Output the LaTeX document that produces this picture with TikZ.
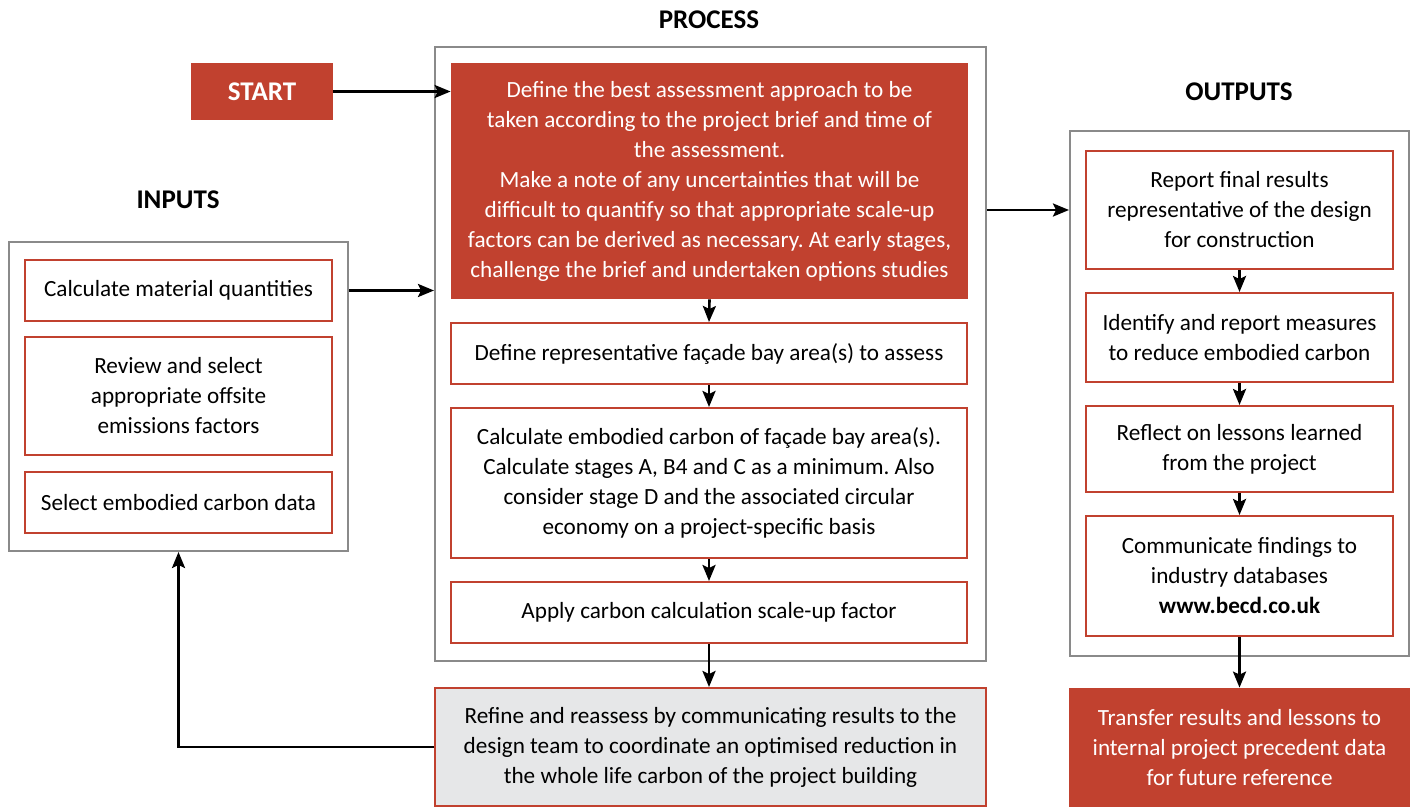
\documentclass[tikz,border=0pt]{standalone}
\usepackage{fontspec}
\setmainfont{Carlito}
\usetikzlibrary{arrows.meta}
\definecolor{brick}{HTML}{C1412F}
\definecolor{frame}{HTML}{8A8A8A}
\definecolor{pale}{HTML}{E6E7E8}
\frenchspacing
\begin{document}
\begin{tikzpicture}[x=0.5pt,y=-0.5pt,
  body/.style={align=center, inner sep=0pt, font=\fontsize{11.6}{15}\selectfont},
  filled/.style={body, fill=brick, draw=none, text=white},
  outlined/.style={body, draw=brick, line width=1pt},
  shaded/.style={body, draw=brick, line width=1pt, fill=pale},
  group/.style={draw=frame, line width=1pt, inner sep=0pt},
  heading/.style={font=\bfseries\fontsize{13.5}{15}\selectfont},
  arr/.style={-{Stealth[length=8pt,width=6.5pt,inset=1.5pt]}, line width=1.3pt}
]
\useasboundingbox (0,0) rectangle (1416,807);

% headings
\node[heading] (hproc) at (709,20) {PROCESS};
\node[heading] (hin) at (178,200) {INPUTS};
\node[heading] (hout) at (1239,92) {OUTPUTS};

% group frames
\node[group, minimum width=275.5pt, minimum height=307pt] (pg) at (710.5,354) {};
\node[group, minimum width=169.5pt, minimum height=154.5pt] (ig) at (178.5,396.5) {};
\node[group, minimum width=169.5pt, minimum height=262.5pt] (og) at (1239.5,393.5) {};

% start
\node[filled, minimum width=71pt, minimum height=28.5pt, font=\bfseries\fontsize{13.5}{15}\selectfont] (start) at (262,91.5) {START};

% process
\node[filled, minimum width=258.5pt, minimum height=118pt] (m1) at (709.5,181)
 {Define the best assessment approach to be\\
  taken according to the project brief and time of\\
  the assessment.\\
  Make a note of any uncertainties that will be\\
  difficult to quantify so that appropriate scale-up\\
  factors can be derived as necessary. At early stages,\\
  challenge the brief and undertaken options studies};
\node[outlined, minimum width=258pt, minimum height=30.5pt] (p2) at (709,353.5)
 {Define representative façade bay area(s) to assess};
\node[outlined, minimum width=258pt, minimum height=75pt] (p3) at (709,483)
 {Calculate embodied carbon of façade bay area(s).\\
  Calculate stages A, B4 and C as a minimum. Also\\
  consider stage D and the associated circular\\
  economy on a project-specific basis};
\node[outlined, minimum width=258pt, minimum height=30.5pt] (p4) at (709,612.5)
 {Apply carbon calculation scale-up factor};
\node[shaded, minimum width=275.5pt, minimum height=59pt] (refine) at (710.5,747)
 {Refine and reassess by communicating results to the\\
  design team to coordinate an optimised reduction in\\
  the whole life carbon of the project building};

% inputs
\node[outlined, minimum width=153.5pt, minimum height=30.5pt] (i1) at (178.5,290.5)
 {Calculate material quantities};
\node[outlined, minimum width=153.5pt, minimum height=59pt] (i2) at (178.5,396)
 {Review and select\\appropriate offsite\\emissions factors};
\node[outlined, minimum width=153.5pt, minimum height=30.5pt] (i3) at (178.5,502.5)
 {Select embodied carbon data};

% outputs
\node[outlined, minimum width=153.5pt, minimum height=59pt] (o1) at (1239.5,210)
 {Report final results\\representative of the design\\for construction};
\node[outlined, minimum width=153.5pt, minimum height=44.5pt] (o2) at (1239.5,337.5)
 {Identify and report measures\\to reduce embodied carbon};
\node[outlined, minimum width=153.5pt, minimum height=43pt] (o3) at (1239.5,449)
 {Reflect on lessons learned\\from the project};
\node[outlined, minimum width=153.5pt, minimum height=60pt] (o4) at (1239.5,576)
 {Communicate findings to\\industry databases\\\textbf{www.becd.co.uk}};
\node[filled, minimum width=170.5pt, minimum height=59.5pt] (tr) at (1239.5,747.5)
 {Transfer results and lessons to\\internal project precedent data\\for future reference};

% connectors
\draw[arr] (start.east) -- (start.east -| m1.west);
\draw[arr] (ig.east |- i1.center) -- (pg.west |- i1.center);
\draw[arr] (m1.south) -- (p2.north);
\draw[arr] (p2.south) -- (p3.north);
\draw[arr] (p3.south) -- (p4.north);
\draw[arr] (p4.south) -- (p4.south |- refine.north);
\draw[arr] (refine.west) -| (ig.south);
\draw[arr] (pg.east |- o1.center) -- (og.west |- o1.center);
\draw[arr] (o1.south) -- (o2.north);
\draw[arr] (o2.south) -- (o3.north);
\draw[arr] (o3.south) -- (o4.north);
\draw[arr] (o4.south) -- (tr.north);
\end{tikzpicture}
\end{document}
